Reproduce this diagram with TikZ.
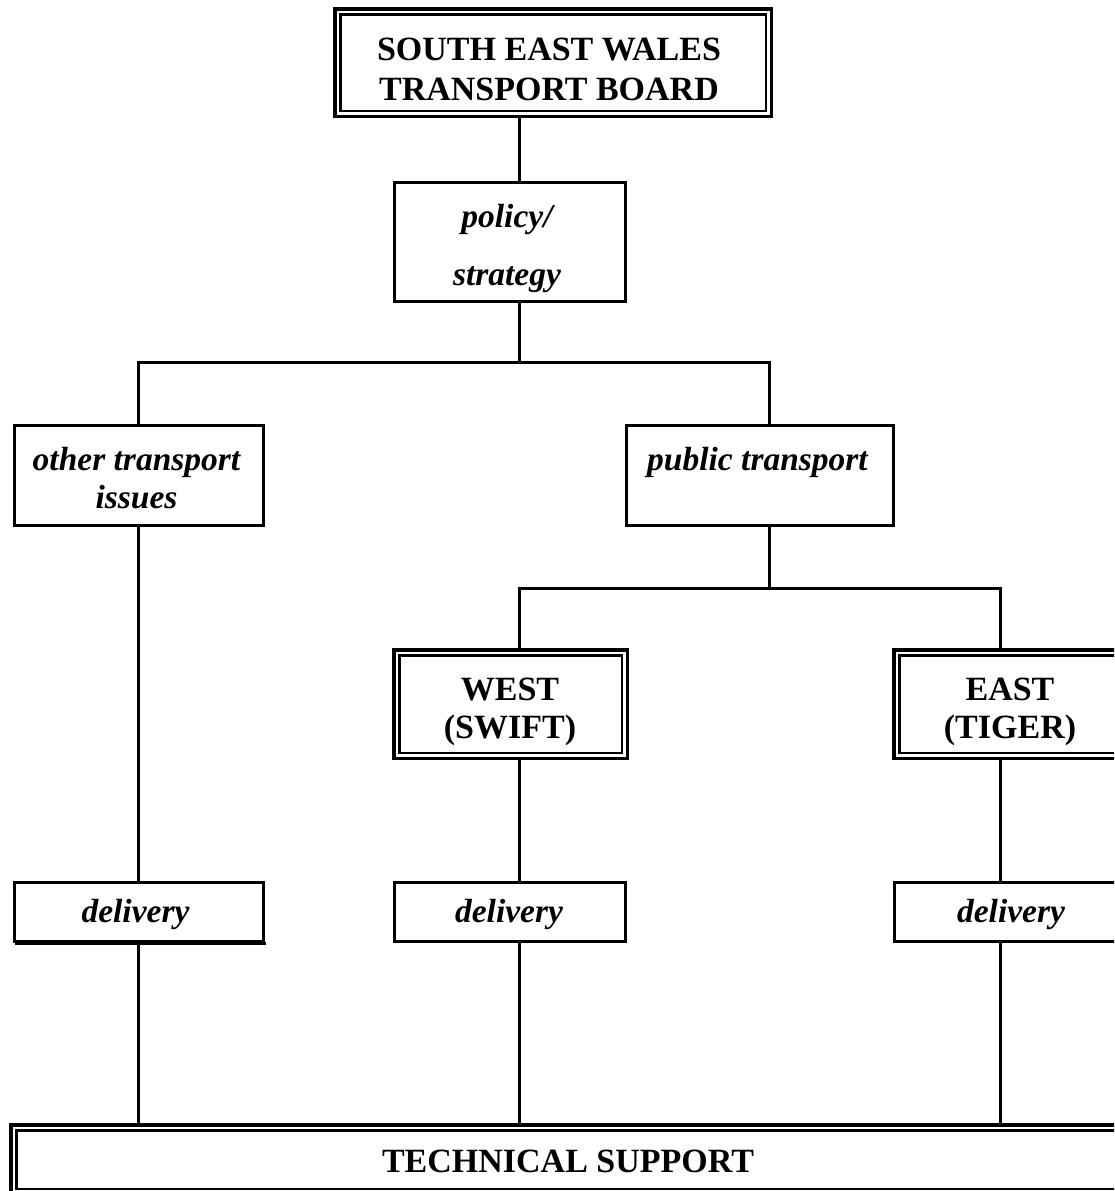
\documentclass[tikz,border=0pt]{standalone}
\usepackage{fontspec}
\setmainfont{Liberation Serif}
\begin{document}
\begin{tikzpicture}[x=1pt,y=-1pt,
  box/.style={draw, rectangle, line width=3pt, inner sep=0pt, outer sep=0pt},
  dbox/.style={draw, rectangle, line width=3.5pt, inner sep=0pt, outer sep=0pt},
  conn/.style={line width=3pt},
  dblin/.style={line width=2.5pt},
  bt/.style={anchor=base, inner sep=0pt, font=\fontsize{34}{40}\selectfont\bfseries},
  itx/.style={anchor=base, inner sep=0pt, font=\fontsize{33.5}{38}\selectfont\bfseries\itshape},
]
\useasboundingbox (0,0) rectangle (1114,1191);
\clip (0,0) rectangle (1114,1191);
\fill[white] (0,0) rectangle (1114,1191);

% connector columns and bar rows
\coordinate (cA) at (138,0);
\coordinate (cB) at (519,0);
\coordinate (cC) at (769,0);
\coordinate (cD) at (1000,0);
\coordinate (barA) at (0,362);
\coordinate (barB) at (0,588);

% boxes
\node[dbox, minimum width=436.5pt, minimum height=107.5pt] (top) at (553,62.5) {};
\node[box, minimum width=231pt, minimum height=119pt] (pol) at (510,242) {};
\node[box, minimum width=249pt, minimum height=100pt] (oth) at (139,475.5) {};
\node[box, minimum width=267pt, minimum height=100pt] (pub) at (760,475.5) {};
\node[dbox, minimum width=233.5pt, minimum height=108.5pt] (west) at (510.5,704) {};
\node[dbox, minimum width=233.5pt, minimum height=108.5pt] (east) at (1010.5,704) {};
\node[box, minimum width=249pt, minimum height=59pt] (delA) at (139,912) {};
\node[box, minimum width=231pt, minimum height=59pt] (delB) at (510,912) {};
\node[box, minimum width=231pt, minimum height=59pt] (delC) at (1010,912) {};
\node[dbox, minimum width=1114.5pt, minimum height=69.5pt] (tech) at (568,1159.5) {};

% inner frames of the double boxes
\foreach \n in {top,west,east,tech}
  \draw[dblin] ([xshift=5.5pt,yshift=-5.5pt]\n.north west) rectangle ([xshift=-5.5pt,yshift=5.5pt]\n.south east);

% heavier bottom edge of the left delivery box
\draw[line width=2.5pt] ([yshift=-2pt]delA.south west) -- ([xshift=2pt,yshift=-2pt]delA.south east);

% texts
\node[bt] (topT) at (549,60) {\begin{tabular}[t]{@{}c@{}}SOUTH EAST WALES\\TRANSPORT BOARD\end{tabular}};
\node[itx, font=\fontsize{33.5}{58}\selectfont\bfseries\itshape] (polT) at (507,227) {\begin{tabular}[t]{@{}c@{}}policy/\\strategy\end{tabular}};
\node[itx] (othT) at (136.5,470) {\begin{tabular}[t]{@{}c@{}}other transport\\issues\end{tabular}};
\node[itx] (pubT) at (757.5,470) {public transport};
\node[bt, font=\fontsize{34}{38}\selectfont\bfseries] (westT) at (510,700) {\begin{tabular}[t]{@{}c@{}}WEST\\(SWIFT)\end{tabular}};
\node[bt, font=\fontsize{34}{38}\selectfont\bfseries] (eastT) at (1010,700) {\begin{tabular}[t]{@{}c@{}}EAST\\(TIGER)\end{tabular}};
\node[itx] (delAT) at (135.5,922) {delivery};
\node[itx] (delBT) at (509,922) {delivery};
\node[itx] (delCT) at (1011,922) {delivery};
\node[bt] (techT) at (568,1172) {TECHNICAL SUPPORT};

% connectors
\draw[conn] (top.south -| cB) -- (pol.north -| cB);
\draw[conn] (pol.south -| cB) -- (barA -| cB);
\draw[conn] (oth.north -| cA) -- (barA -| cA) -- (barA -| cC) -- (pub.north -| cC);
\draw[conn] (pub.south -| cC) -- (barB -| cC);
\draw[conn] (west.north -| cB) -- (barB -| cB) -- (barB -| cD) -- (east.north -| cD);
\draw[conn] (oth.south -| cA) -- (delA.north -| cA);
\draw[conn] (west.south -| cB) -- (delB.north -| cB);
\draw[conn] (east.south -| cD) -- (delC.north -| cD);
\draw[conn] (delA.south -| cA) -- (tech.north -| cA);
\draw[conn] (delB.south -| cB) -- (tech.north -| cB);
\draw[conn] (delC.south -| cD) -- (tech.north -| cD);
\end{tikzpicture}
\end{document}
